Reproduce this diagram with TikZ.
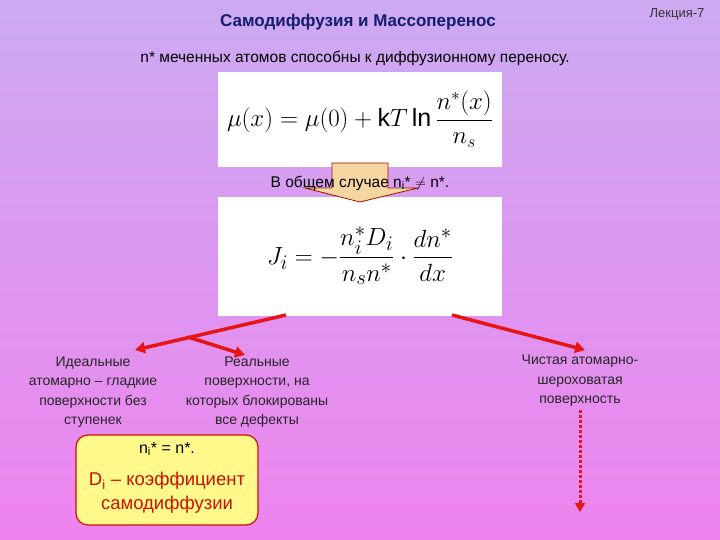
\documentclass[tikz,border=0pt]{standalone}
\usepackage{fontspec}
\setmainfont{Liberation Sans}
\usepackage{amsmath}
\usetikzlibrary{arrows.meta}
\definecolor{bgtop}{RGB}{204,170,242}
\definecolor{bgbot}{RGB}{238,132,238}
\definecolor{titlec}{RGB}{20,30,110}
\definecolor{arrred}{RGB}{230,20,20}
\definecolor{tan}{RGB}{246,214,160}
\definecolor{dred}{RGB}{200,20,0}
\begin{document}
\begin{tikzpicture}[x=1pt,y=-1pt,
  lbl/.style={font=\fontsize{14}{19.5}\selectfont, text=black!85, align=center},
  redarrow/.style={draw=arrred, line width=3.5pt, -{Triangle[length=10pt,width=11pt]}},
  wbox/.style={fill=white, draw=none}]
\shade[top color=bgtop, bottom color=bgbot] (0,0) rectangle (720,540);
\useasboundingbox (0,0) rectangle (720,540);
\node[font=\bfseries\fontsize{17}{19}\selectfont, text=titlec] (title) at (358,22) {Самодиффузия и Массоперенос};
\node[font=\fontsize{13}{15}\selectfont, text=black!80] (lect) at (677,14) {Лекция-7};
\node[font=\fontsize{15.5}{17}\selectfont] (intro) at (355,58) {n* меченных атомов способны к диффузионному переносу.};
\node[wbox, minimum width=284pt, minimum height=95pt] (f1) at (360,119.5) {};
\node[font=\fontsize{25}{28}\selectfont] (f1t) at (360,119) {$\mu(x)=\mu(0)+\text{k}T\,\text{ln}\,\dfrac{n^{*}(x)}{n_{s}}$};
\node[wbox, minimum width=284pt, minimum height=119pt] (f2) at (360,256.5) {};
\node[font=\fontsize{29}{32}\selectfont] (f2t) at (360,256) {$J_{i}=-\dfrac{n_{i}^{*}D_{i}}{n_{s}n^{*}}\cdot\dfrac{dn^{*}}{dx}$};
\filldraw[fill=tan, draw=dred!80!black, line width=0.8pt] (332,163) -- (388,163) -- (388,188) -- (418,188) -- (360,202) -- (305,188) -- (332,188) -- cycle;
\node[font=\fontsize{15.5}{17}\selectfont] (gen) at (360,183) {В общем случае n$_{\mathrm{i}}$* $\neq$ n*.};
\coordinate (a1s) at (286,315);
\coordinate (a1e) at (135,350);
\coordinate (a2s) at (188,337);
\coordinate (a2e) at (245,355);
\coordinate (a3s) at (452,315);
\coordinate (a3e) at (585,350);
\draw[redarrow] (a1s) -- (a1e);
\draw[redarrow] (a2s) -- (a2e);
\draw[redarrow] (a3s) -- (a3e);
\node[lbl] (ideal) at (93,392) {Идеальные\\атомарно -- гладкие\\поверхности без\\ступенек};
\node[lbl] (real) at (257,392) {Реальные\\поверхности, на\\которых блокированы\\все дефекты};
\node[lbl] (clean) at (580,381) {Чистая атомарно-\\шероховатая\\поверхность};
\coordinate (dend) at (580,512);
\draw[arrred, line width=3pt, dotted, -{Triangle[length=9pt,width=10pt]}] (clean.south) -- (dend);
\node[draw=dred, line width=1.2pt, fill=yellow!45, rounded corners=12pt, minimum width=182pt, minimum height=90pt] (yb) at (167,480) {};
\node[font=\fontsize{16}{17}\selectfont] (eq) at (167,449) {n$_{\mathrm{i}}$* = n*.};
\node[font=\fontsize{18.5}{24}\selectfont, text=dred, align=center] (dd) at (167,493) {D$_{\mathrm{i}}$ -- коэффициент\\самодиффузии};
\end{tikzpicture}
\end{document}
